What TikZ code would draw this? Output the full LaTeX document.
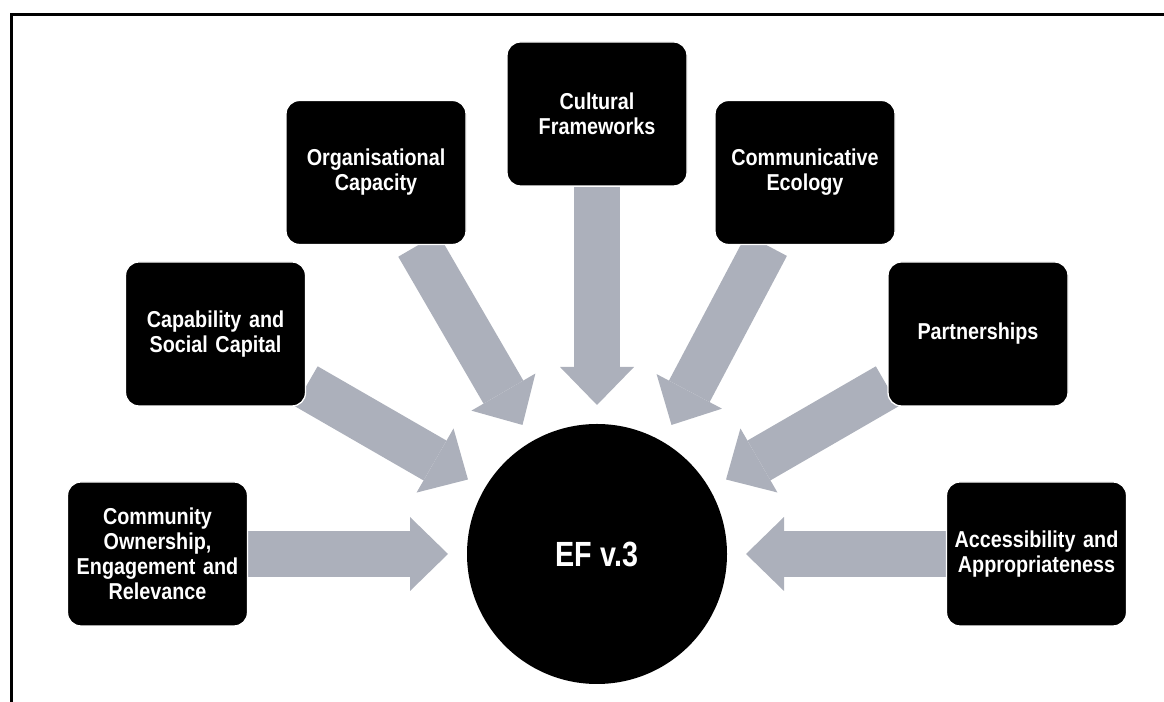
\documentclass[tikz,border=0pt]{standalone}
\usepackage{fontspec}
\usepackage{tikz}
\usetikzlibrary{arrows.meta}
\usetikzlibrary{backgrounds}
\usepackage{xcolor}
\newfontfamily\boxfont{Liberation Sans}[FakeStretch=0.86]
\newfontfamily\corefont{Liberation Sans}[FakeStretch=0.82]
\definecolor{arrowgray}{RGB}{172,176,187}

\begin{document}
\begin{tikzpicture}[x=0.75pt,y=0.75pt,
  factor/.style={fill=black, draw=white, line width=1pt, rounded corners=10pt,
    minimum width=135pt, minimum height=108pt, text width=128pt, inner sep=0pt,
    align=center, text=white, font=\boxfont\bfseries\fontsize{17.25}{18.75}\selectfont},
  core/.style={circle, fill=black, minimum size=195pt, inner sep=0pt,
    text=white, font=\corefont\bfseries\fontsize{26.25}{28}\selectfont},
  flow/.style={arrowgray, line width=34.5pt,
    -{Triangle[width=55.5pt,length=28.5pt,line width=0pt]}}]
\useasboundingbox (0,0) rectangle (1164,702);
% frame, open at right and bottom
\draw [line width=2.25pt] (11,0) -- (11,687) -- (1164,687);
% centre
\node[core] (ef) at (597,148) {EF v.3};
% factors
\node[factor] (cult) at (597,588) {Cultural\\Frameworks};
\node[factor] (org) at (376,529.5) {Organisational\\Capacity};
\node[factor] (comm) at (805,529.5) {Communicative\\Ecology};
\node[factor] (cap) at (215.5,368) {Capability and\\Social Capital};
\node[factor] (part) at (978,368) {Partnerships};
\node[factor] (own) at (157.5,148) {Community\\Ownership,\\Engagement and\\Relevance};
\node[factor] (acc) at (1036.5,148) {Accessibility and\\Appropriateness};
% arrow tips round the centre
\path (ef) ++(90:149) coordinate (t-cult);
\path (ef) ++(120:149) coordinate (t-org);
\path (ef) ++(60:149) coordinate (t-comm);
\path (ef) ++(150:149) coordinate (t-cap);
\path (ef) ++(30:149) coordinate (t-part);
\path (ef) ++(180:149) coordinate (t-own);
\path (ef) ++(0:149) coordinate (t-acc);
\begin{scope}[on background layer]
\draw [flow] (cult) -- (t-cult);
\draw [flow] (org) -- (t-org);
\draw [flow] (comm) -- (t-comm);
\draw [flow] (cap) -- (t-cap);
\draw [flow] (part) -- (t-part);
\draw [flow] (own) -- (t-own);
\draw [flow] (acc) -- (t-acc);
\end{scope}
\end{tikzpicture}
\end{document}
